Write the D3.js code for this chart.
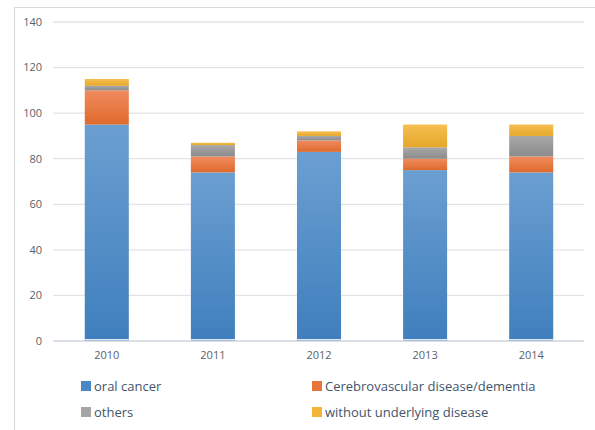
<!DOCTYPE html>
<html>
<head>
<meta charset="utf-8">
<script src="https://cdn.jsdelivr.net/npm/d3@7"></script>
<style>
  body { margin: 0; background: #fff; }
  text { font-family: "Open Sans", "Liberation Sans", sans-serif; }
</style>
</head>
<body>
<div id="chart"></div>
<script>
// data
let years = ["2010", "2011", "2012", "2013", "2014"];
let oralCancer = [95, 74, 83, 75, 74];
let cerebro = [15, 7, 5, 5, 7];
let others = [2, 5, 2, 5, 9];
let noDisease = [3, 1, 2, 10, 5];
let seriesNames = ["oral cancer", "Cerebrovascular disease/dementia", "others", "without underlying disease"];
let yTicks = [0, 20, 40, 60, 80, 100, 120, 140];

// top / bottom colour of each segment's shading
let colours = [
    ["#6b9fd1", "#3f7fbd"],
    ["#f08b5e", "#de6a2d"],
    ["#a9a9a9", "#8b8b8b"],
    ["#f6bf52", "#e5a72a"]
];
let swatch = ["#4a88c5", "#e8743b", "#a5a5a5", "#f2b53a"];

let width = 595, height = 430;
let svg = d3.select("#chart").append("svg")
    .attr("width", width)
    .attr("height", height);

// outer frame
svg.append("rect")
    .attr("x", 14.5).attr("y", 7.5)
    .attr("width", 600).attr("height", 440)
    .attr("fill", "none")
    .attr("stroke", "#d9d9d9");

let defs = svg.append("defs");
colours.forEach(function (c, i) {
    let g = defs.append("linearGradient")
        .attr("id", "grad" + i)
        .attr("x1", 0).attr("y1", 0).attr("x2", 0).attr("y2", 1);
    g.append("stop").attr("offset", "0%").attr("stop-color", c[0]);
    g.append("stop").attr("offset", "100%").attr("stop-color", c[1]);
});

let x = d3.scaleBand().domain(years).range([54, 584]).paddingInner(0.585).paddingOuter(0.29);
let y = d3.scaleLinear().domain([0, 140]).range([341, 22]);

// gridlines
svg.append("g").selectAll("line")
    .data(yTicks.filter(d => d > 0))
    .enter().append("line")
    .attr("x1", 53).attr("x2", 584)
    .attr("y1", d => y(d)).attr("y2", d => y(d))
    .attr("stroke", "#e3e3e8")
    .attr("stroke-width", 1.3);

// y tick labels
svg.append("g").selectAll("text")
    .data(yTicks)
    .enter().append("text")
    .attr("x", 42)
    .attr("y", d => y(d))
    .attr("dy", "0.35em")
    .attr("text-anchor", "end")
    .attr("font-size", 11)
    .attr("fill", "#595f6b")
    .text(d => d);

// stacked bars
let rows = years.map(function (yr, i) {
    return {year: yr, s0: oralCancer[i], s1: cerebro[i], s2: others[i], s3: noDisease[i]};
});
let stack = d3.stack().keys(["s0", "s1", "s2", "s3"]);
let layers = stack(rows);

svg.append("g").selectAll("g")
    .data(layers)
    .enter().append("g")
    .attr("fill", (d, i) => "url(#grad" + i + ")")
    .selectAll("rect")
    .data(d => d)
    .enter().append("rect")
    .attr("x", d => x(d.data.year))
    .attr("width", x.bandwidth())
    .attr("y", d => y(d[1]))
    .attr("height", d => y(d[0]) - y(d[1]));

// little highlight near the bar bottoms
svg.append("g").selectAll("line")
    .data(years)
    .enter().append("line")
    .attr("x1", d => x(d)).attr("x2", d => x(d) + x.bandwidth())
    .attr("y1", y(0) - 1.5).attr("y2", y(0) - 1.5)
    .attr("stroke", "#dfe9f4").attr("stroke-width", 1);

// baseline
svg.append("line")
    .attr("x1", 53).attr("x2", 584)
    .attr("y1", y(0)).attr("y2", y(0))
    .attr("stroke", "#cfd5e0")
    .attr("stroke-width", 1.3);

// x labels
svg.append("g").selectAll("text")
    .data(years)
    .enter().append("text")
    .attr("x", d => x(d) + x.bandwidth() / 2)
    .attr("y", 359)
    .attr("text-anchor", "middle")
    .attr("font-size", 11)
    .attr("fill", "#595f6b")
    .text(d => d);

// legend
let legendPos = [[81, 386], [312, 386], [81, 412], [312, 412]];
let legend = svg.append("g").selectAll("g")
    .data(seriesNames)
    .enter().append("g")
    .attr("transform", (d, i) => "translate(" + legendPos[i][0] + "," + legendPos[i][1] + ")");

legend.append("rect")
    .attr("x", 0).attr("y", -5)
    .attr("width", 10).attr("height", 10)
    .attr("fill", (d, i) => swatch[i]);

legend.append("text")
    .attr("x", 13)
    .attr("dy", "0.35em")
    .attr("font-size", 13)
    .attr("fill", "#44546a")
    .text(d => d);
</script>
</body>
</html>
